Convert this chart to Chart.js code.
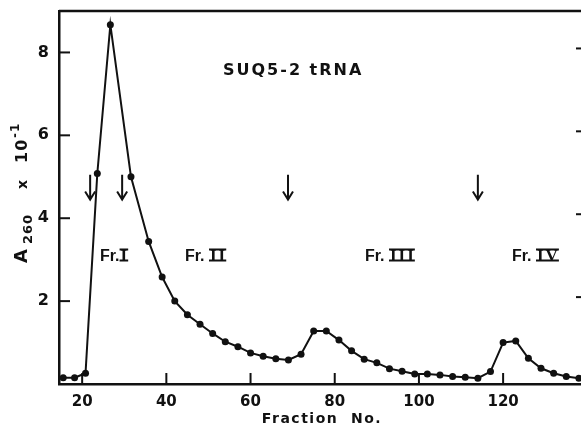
<!DOCTYPE html>
<html>
<head>
<meta charset="utf-8">
<script src="https://cdn.jsdelivr.net/npm/chart.js@4/dist/chart.umd.min.js"></script>
<style>
  html, body { margin: 0; padding: 0; background: #fff; }
  #wrap { width: 581px; height: 427px; }
</style>
</head>
<body>
<div id="wrap"><canvas id="grafico"></canvas></div>
<script>
// Valores
const fracoes = [15.5, 18.2, 20.8, 23.6, 26.7, 31.6, 35.8, 39, 42, 45, 48, 51, 54, 57, 60, 63, 66, 69, 72, 75, 78, 81, 84, 87, 90, 93, 96, 99, 102, 105, 108, 111, 114, 117, 120, 123, 126, 129, 132, 135, 138];
const a260 = [0.15, 0.15, 0.26, 5.08, 8.67, 5.0, 3.44, 2.58, 2.0, 1.67, 1.44, 1.22, 1.02, 0.90, 0.75, 0.67, 0.61, 0.58, 0.72, 1.28, 1.28, 1.06, 0.80, 0.60, 0.51, 0.37, 0.31, 0.24, 0.24, 0.22, 0.18, 0.16, 0.14, 0.30, 1.0, 1.04, 0.62, 0.38, 0.26, 0.18, 0.14];
const ticksX = [20, 40, 60, 80, 100, 120];
const ticksY = [2, 4, 6, 8];
const setas = [21.9, 29.5, 68.9, 114];
const rotulosFr = [
  { x: 100, nome: "I" },
  { x: 185, nome: "II" },
  { x: 365, nome: "III" },
  { x: 512, nome: "IV" }
];

const pontos = fracoes.map((f, i) => ({ x: f, y: a260[i] }));

// zera o padding que o Chart.js reserva para os rótulos
function semPadding(s) {
  s.paddingLeft = 0;
  s.paddingRight = 0;
  s.paddingTop = 0;
  s.paddingBottom = 0;
}

// Desenha moldura, ticks internos, setas e textos
const extras = {
  id: "extras",
  afterDraw(chart) {
    const ctx = chart.ctx;
    const area = chart.chartArea;
    const sx = chart.scales.x;
    const sy = chart.scales.y;
    ctx.save();
    ctx.strokeStyle = "#111";
    ctx.fillStyle = "#111";

    // linha de cima
    ctx.lineWidth = 2.5;
    ctx.beginPath();
    ctx.moveTo(area.left, area.top);
    ctx.lineTo(area.right, area.top);
    ctx.stroke();

    // ticks para dentro
    ctx.lineWidth = 2;
    ticksX.forEach(v => {
      const px = sx.getPixelForValue(v);
      ctx.beginPath();
      ctx.moveTo(px, area.bottom);
      ctx.lineTo(px, area.bottom - 11);
      ctx.stroke();
    });
    ticksY.forEach(v => {
      const py = sy.getPixelForValue(v);
      ctx.beginPath();
      ctx.moveTo(area.left, py);
      ctx.lineTo(area.left + 11, py);
      ctx.stroke();
      ctx.beginPath();
      ctx.moveTo(area.right, py - 4);
      ctx.lineTo(area.right - 5, py - 4);
      ctx.stroke();
    });

    // setas
    ctx.lineWidth = 2;
    setas.forEach(v => {
      const px = sx.getPixelForValue(v);
      const y1 = sy.getPixelForValue(5.05);
      const y2 = sy.getPixelForValue(4.45);
      ctx.beginPath();
      ctx.moveTo(px, y1);
      ctx.lineTo(px, y2);
      ctx.moveTo(px - 5, y2 - 8);
      ctx.lineTo(px, y2);
      ctx.lineTo(px + 5, y2 - 8);
      ctx.stroke();
    });

    // título
    ctx.font = "bold 16px 'DejaVu Sans'";
    ctx.letterSpacing = "2px";
    ctx.textAlign = "left";
    ctx.textBaseline = "alphabetic";
    ctx.fillText("SUQ5-2 tRNA", 223, 75);

    // rótulos das frações
    rotulosFr.forEach(r => {
      ctx.letterSpacing = "0px";
      ctx.font = "bold 16px 'Liberation Sans'";
      const base = 261;
      const txt = r.nome === "I" ? "Fr." : "Fr. ";
      ctx.fillText(txt, r.x, base);
      const x0 = r.x + ctx.measureText(txt).width + 1;
      ctx.font = "bold 17px 'Liberation Serif'";
      ctx.letterSpacing = "2px";
      const w = ctx.measureText(r.nome).width - 2;
      ctx.fillText(r.nome, x0, base);
      ctx.lineWidth = 2;
      ctx.beginPath();
      ctx.moveTo(x0 - 1, base - 11.5);
      ctx.lineTo(x0 + w + 1, base - 11.5);
      ctx.moveTo(x0 - 1, base - 0.5);
      ctx.lineTo(x0 + w + 1, base - 0.5);
      ctx.stroke();
    });

    // título do eixo x
    ctx.font = "bold 14px 'DejaVu Sans'";
    ctx.letterSpacing = "1.5px";
    ctx.textAlign = "center";
    ctx.fillText("Fraction  No.", 322, 423);

    // título do eixo y (rotacionado)
    ctx.translate(27, 263);
    ctx.rotate(-Math.PI / 2);
    ctx.textAlign = "left";
    ctx.letterSpacing = "1px";
    ctx.font = "bold 18px 'DejaVu Sans'";
    ctx.fillText("A", 0, 0);
    ctx.font = "bold 13px 'DejaVu Sans'";
    ctx.fillText("260", 19, 5);
    ctx.font = "bold 14px 'DejaVu Sans'";
    ctx.fillText("x", 74, 0);
    ctx.font = "bold 16px 'DejaVu Sans'";
    ctx.fillText("10", 100, 0);
    ctx.font = "bold 12px 'DejaVu Sans'";
    ctx.fillText("-1", 125, -8);
    ctx.restore();
  }
};

const config = {
  type: "line",
  data: {
    datasets: [{
      label: "A260",
      data: pontos,
      borderColor: "#111",
      backgroundColor: "#111",
      borderWidth: 2,
      pointRadius: 3.5,
      pointBackgroundColor: "#111",
      pointBorderWidth: 0,
      tension: 0
    }]
  },
  options: {
    responsive: true,
    maintainAspectRatio: false,
    animation: false,
    layout: {
      autoPadding: false,
      padding: { top: 11, left: 0, right: 0, bottom: 0 }
    },
    plugins: {
      legend: { display: false },
      tooltip: { enabled: false }
    },
    scales: {
      x: {
        type: "linear",
        min: 14.5,
        max: 138.5,
        afterBuildTicks: s => { s.ticks = ticksX.map(v => ({ value: v })); },
        afterFit: s => {
          s.height = 43;
          semPadding(s);
        },
        grid: { display: false, drawTicks: false },
        border: { display: true, color: "#111", width: 2.5 },
        ticks: {
          color: "#111",
          padding: 9,
          maxRotation: 0,
          font: { family: "DejaVu Sans", size: 15, weight: "bold" }
        }
      },
      y: {
        min: 0,
        max: 9,
        afterBuildTicks: s => { s.ticks = ticksY.map(v => ({ value: v })); },
        afterFit: s => {
          s.width = 59;
          semPadding(s);
        },
        grid: { display: false, drawTicks: false },
        border: { display: true, color: "#111", width: 2.5 },
        ticks: {
          color: "#111",
          padding: 10,
          font: { family: "DejaVu Sans", size: 16, weight: "bold" }
        }
      }
    }
  },
  plugins: [extras]
};

const ctx = document.getElementById("grafico").getContext("2d");
new Chart(ctx, config);
</script>
</body>
</html>
